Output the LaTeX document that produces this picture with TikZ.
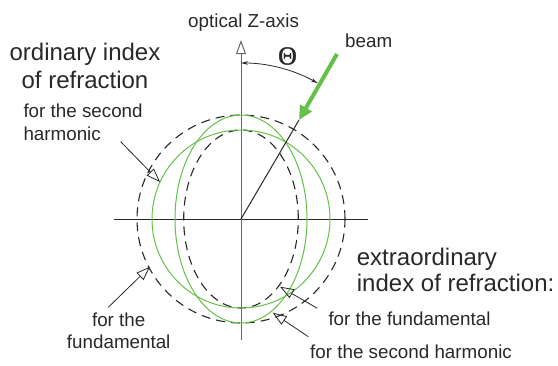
\documentclass[tikz,border=0pt]{standalone}
\usepackage{fontspec}
\setmainfont{Liberation Sans}
\newfontfamily\thetafont[FakeBold=1.5]{Liberation Serif}
\usetikzlibrary{arrows.meta}
\definecolor{grn}{RGB}{100,192,72}
\definecolor{ink}{RGB}{40,40,40}
\begin{document}
\begin{tikzpicture}[x=1pt,y=-1pt,
  big/.style={font=\fontsize{24}{28}\selectfont, text=ink, inner sep=0pt},
  small/.style={font=\fontsize{18.8}{22}\selectfont, text=ink, inner sep=0pt},
  dashline/.style={ink, line width=1.1pt, dash pattern=on 9pt off 6pt},
  greenline/.style={grn, line width=1pt},
  pointer/.style={ink, line width=0.8pt, -{Triangle[open, length=14pt, width=10pt]}},
]
\useasboundingbox (0,0) rectangle (558,365);

% centre and axes
\coordinate (O) at (241,219);
\coordinate (xl) at (114,219);
\coordinate (xr) at (368,219);
\coordinate (yb) at (241,340);
\coordinate (yt) at (241,40);
\draw[ink, line width=1pt] (xl) -- (xr);
\draw[gray!80!black, line width=1pt, -{Triangle[open, length=14pt, width=10pt]}] (yb) -- (yt);

% index surfaces
\draw[dashline] (O) circle[radius=104pt];
\draw[dashline] (O) ellipse[x radius=57.3pt, y radius=89pt];
\draw[greenline] (O) circle[radius=89pt];
\draw[greenline] (O) ellipse[x radius=66pt, y radius=104pt];

% beam
\coordinate (btip) at (299,120);
\coordinate (bstart) at (337,54);
\draw[ink, line width=1pt] (O) -- (btip);
\draw[grn, line width=4pt, -{Triangle[length=14pt, width=13pt]}] (bstart) -- (btip);

% theta arc
\draw[ink, line width=0.8pt, {Stealth[length=7pt, width=3.5pt]}-{Stealth[length=7pt, width=3.5pt]}]
  (O) ++(90:156pt) arc[start angle=90, end angle=60.5, radius=156pt];
\node[text=ink, inner sep=0pt, font=\thetafont\fontsize{26}{30}\selectfont] (theta) at (287.5,56) {Θ};

% labels
\node[small, anchor=base west] (zaxis) at (188,27) {optical Z-axis};
\node[small, anchor=base west] (beam) at (345,47) {beam};
\node[big, anchor=base] (ord1) at (85,60) {ordinary index};
\node[big, anchor=base] (ord2) at (85,88.3) {of refraction};
\node[small, anchor=base west] (osh1) at (23.3,117.3) {for the second};
\node[small, anchor=base west] (osh2) at (23.3,140) {harmonic};
\node[small, anchor=base] (ofu1) at (118.7,326.7) {for the};
\node[small, anchor=base] (ofu2) at (118.7,348.3) {fundamental};
\node[big, anchor=base west] (ext1) at (356.7,265) {extraordinary};
\node[big, anchor=base west] (ext2) at (356.7,291.7) {index of refraction:};
\node[small, anchor=base west] (efu) at (328.3,325) {for the fundamental};
\node[small, anchor=base west] (esh) at (310,358.3) {for the second harmonic};

% pointers
\coordinate (p1s) at (120.7,141.7); \coordinate (p1e) at (160,182);
\coordinate (p2s) at (108.3,307.3); \coordinate (p2e) at (150,266.7);
\coordinate (p3s) at (317.3,308.3); \coordinate (p3e) at (280,286.7);
\coordinate (p4s) at (308.3,336.7); \coordinate (p4e) at (272.7,312.7);
\draw[pointer] (p1s) -- (p1e);
\draw[pointer] (p2s) -- (p2e);
\draw[pointer] (p3s) -- (p3e);
\draw[pointer] (p4s) -- (p4e);
\end{tikzpicture}
\end{document}
